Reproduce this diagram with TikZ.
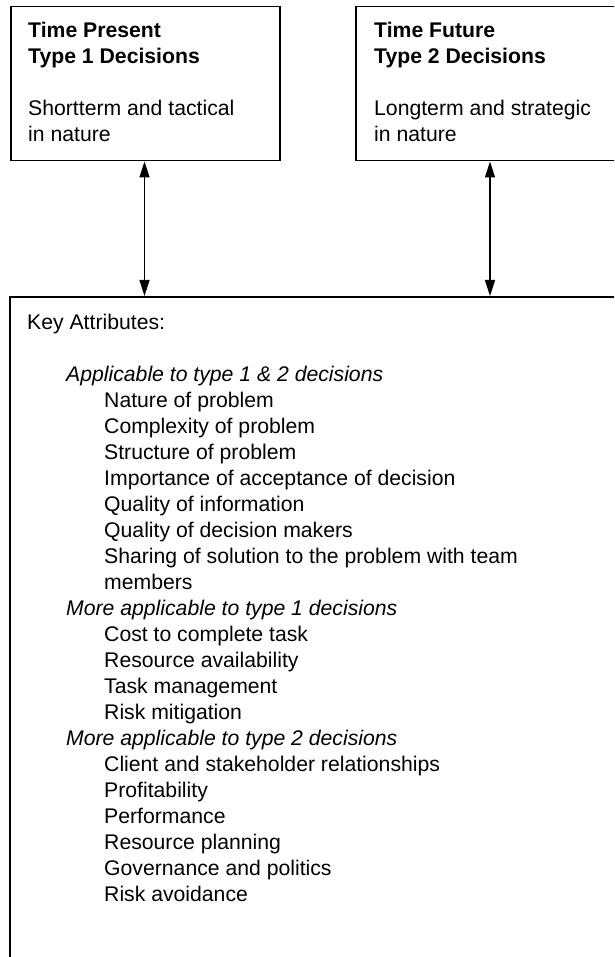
\documentclass[tikz,border=0pt]{standalone}
\usepackage{fontspec}
\setmainfont{Liberation Sans}
\usetikzlibrary{arrows.meta}
\begin{document}
\begin{tikzpicture}[x=1pt,y=-1pt,
  boxline/.style={draw=black,line width=1.5pt,rectangle,inner sep=0pt,anchor=north west},
  txt/.style={anchor=base west,inner sep=0pt,font=\fontsize{21.2}{26}\selectfont},
  link/.style={line width=1.4pt,{Triangle[length=16pt,width=10pt]}-{Triangle[length=16pt,width=10pt]}}]
\useasboundingbox (0,0) rectangle (614,957);
\clip (0,0) rectangle (614,957);
% boxes
\node[boxline,minimum width=269pt,minimum height=154pt] (b1) at (10,6) {};
\node[boxline,minimum width=270pt,minimum height=154pt] (b2) at (355,6) {};
\node[boxline,minimum width=700pt,minimum height=800pt] (b3) at (9,296) {};
% top box texts
\node[txt] (p1) at (28,37.5) {\bfseries Time Present};
\node[txt] (p2) at (28,63.5) {\bfseries Type 1 Decisions};
\node[txt] (p3) at (28,115.5) {Shortterm and tactical};
\node[txt] (p4) at (28,141.5) {in nature};
\node[txt] (f1) at (374,37.5) {\bfseries Time Future};
\node[txt] (f2) at (374,63.5) {\bfseries Type 2 Decisions};
\node[txt] (f3) at (374,115.5) {Longterm and strategic};
\node[txt] (f4) at (374,141.5) {in nature};
% connectors
\coordinate (ax1) at (144.5,0);
\coordinate (ax2) at (490,0);
\draw[link] (b1.south -| ax1) -- (b3.north -| ax1);
\draw[link] (b2.south -| ax2) -- (b3.north -| ax2);
% key attributes text
\foreach \k/\x/\s [count=\n] in {
  0/27/{Key Attributes:},
  2/66/{\itshape Applicable to type 1 \& 2 decisions},
  3/104/{Nature of problem},
  4/104/{Complexity of problem},
  5/104/{Structure of problem},
  6/104/{Importance of acceptance of decision},
  7/104/{Quality of information},
  8/104/{Quality of decision makers},
  9/104/{Sharing of solution to the problem with team},
  10/104/{members},
  11/66/{\itshape More applicable to type 1 decisions},
  12/104/{Cost to complete task},
  13/104/{Resource availability},
  14/104/{Task management},
  15/104/{Risk mitigation},
  16/66/{\itshape More applicable to type 2 decisions},
  17/104/{Client and stakeholder relationships},
  18/104/{Profitability},
  19/104/{Performance},
  20/104/{Resource planning},
  21/104/{Governance and politics},
  22/104/{Risk avoidance}}
  \node[txt] (k\n) at (\x,329+26*\k) {\s};
\end{tikzpicture}
\end{document}
